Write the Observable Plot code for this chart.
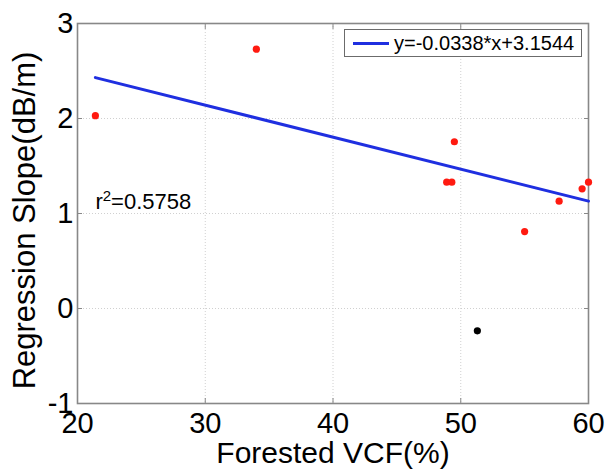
<!DOCTYPE html>
<html><head><meta charset="utf-8">
<script src="https://cdn.jsdelivr.net/npm/d3@7"></script>
<script src="https://cdn.jsdelivr.net/npm/@observablehq/plot@0.6"></script>
<style>
body{margin:0;background:#fff;}
#chart{position:relative;width:606px;height:469px;font-family:"Liberation Sans",Arial,sans-serif;}
.legend{position:absolute;left:344px;top:29px;width:238px;height:28px;border:1px solid #6b6b6b;background:#fff;box-sizing:border-box;display:flex;align-items:center;}
.legend .swatch{margin-left:8px;width:36px;height:3px;background:#1f2fe0;}
.legend .lbl{margin-left:5px;font-size:20px;color:#000;white-space:nowrap;}
</style></head><body><div id="chart"></div>
<script>
// Scatter data (red points)
const vcf = [21.4, 34.0, 49.5, 48.9, 49.3, 57.7, 59.5, 60.0, 55.0];
const slope = [2.03, 2.73, 1.755, 1.33, 1.33, 1.13, 1.26, 1.33, 0.81];
// Excluded point (black)
const outVcf = [51.3];
const outSlope = [-0.235];
// Fitted line endpoints
const fitVcf = [21.4, 60];
const fitSlope = [2.43, 1.13];
// Annotation
const r2Text = ["r\u00B2=0.5758"];
const r2X = [21.4];
const r2Y = [1.045];
const legendText = "y=-0.0338*x+3.1544";
// Ticks
const xTicks = [20, 30, 40, 50, 60];
const yTicks = [-1, 0, 1, 2, 3];
const xGrid = [30, 40, 50];
const yGrid = [0, 1, 2];

const pts = vcf.map((v, i) => ({x: v, y: slope[i]}));
const outPts = outVcf.map((v, i) => ({x: v, y: outSlope[i]}));
const fit = fitVcf.map((v, i) => ({x: v, y: fitSlope[i]}));
const r2 = r2Text.map((t, i) => ({t, x: r2X[i], y: r2Y[i]}));

const gray = "#888";
const fmt = d => String(d);
const chart = Plot.plot({
  width: 606, height: 469,
  marginLeft: 77, marginRight: 18, marginTop: 23, marginBottom: 66,
  style: {fontFamily: '"Liberation Sans", Arial, sans-serif', background: "white", color: "black"},
  x: {domain: [20, 60]},
  y: {domain: [-1, 3]},
  marks: [
    Plot.gridX(xGrid, {stroke: "#d0d0d0", strokeOpacity: 1, strokeDasharray: "1,2"}),
    Plot.gridY(yGrid, {stroke: "#d0d0d0", strokeOpacity: 1, strokeDasharray: "1,2"}),
    Plot.frame({stroke: gray, strokeWidth: 1.6}),
    Plot.axisX(xTicks, {anchor: "bottom", tickSize: -5, tickPadding: 14, fontSize: 29, tickFormat: fmt, stroke: gray, fill: "black", label: null}),
    Plot.axisX(xTicks, {anchor: "top", tickSize: -5, tickFormat: () => "", stroke: gray, label: null}),
    Plot.axisY(yTicks, {anchor: "left", tickSize: -5, tickPadding: 9, fontSize: 29, tickFormat: fmt, stroke: gray, fill: "black", label: null}),
    Plot.axisY(yTicks, {anchor: "right", tickSize: -5, tickFormat: () => "", stroke: gray, label: null}),
    Plot.line(fit, {x: "x", y: "y", stroke: "#1f2fe0", strokeWidth: 3}),
    Plot.dot(pts, {x: "x", y: "y", r: 3.6, fill: "#ff1a10", stroke: "none"}),
    Plot.dot(outPts, {x: "x", y: "y", r: 3.6, fill: "#000", stroke: "none"}),
    Plot.text(r2, {x: "x", y: "y", text: "t", textAnchor: "start", lineAnchor: "bottom", fontSize: 22, fill: "black"}),
    Plot.text(["Forested VCF(%)"], {frameAnchor: "bottom", textAnchor: "middle", lineAnchor: "bottom", dy: 59, fontSize: 30, fill: "black"}),
    Plot.text(["Regression Slope(dB/m)"], {frameAnchor: "left", textAnchor: "middle", rotate: -90, lineAnchor: "bottom", dx: -43, dy: 7, fontSize: 31, fill: "black"})
  ]
});
// Render the squared sign as a true superscript
d3.select(chart).selectAll("text").each(function () {
  const s = this.textContent;
  if (s.indexOf("\u00B2") < 0 || this.children.length > 1) return;
  const [a, b] = s.split("\u00B2");
  const t = d3.select(this);
  t.text(null);
  t.append("tspan").text(a);
  t.append("tspan").attr("font-size", "15px").attr("dy", "-0.55em").text("2");
  t.append("tspan").attr("dy", "8.25px").text(b);
});
const host = document.getElementById("chart");
host.append(chart);
const lg = document.createElement("div");
lg.className = "legend";
lg.innerHTML = '<div class="swatch"></div><div class="lbl"></div>';
lg.querySelector(".lbl").textContent = legendText;
host.append(lg);
</script>
</body></html>
